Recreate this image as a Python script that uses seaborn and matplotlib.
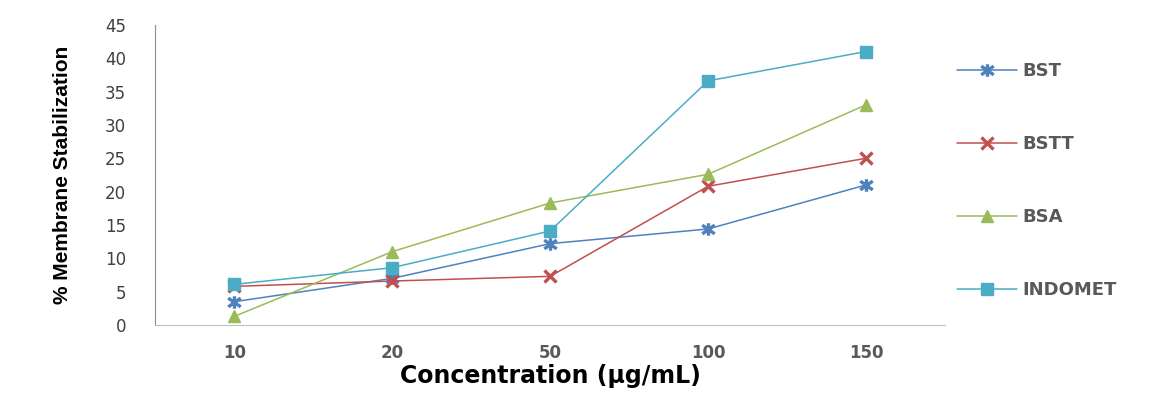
import pandas as pd
import numpy as np
import matplotlib.pyplot as plt
import seaborn as sns
from matplotlib.ticker import FixedLocator
from matplotlib.path import Path

sns.set_style("white")
plt.rcParams['font.family'] = ['DejaVu Sans']

# data
concentrations = ['10', '20', '50', '100', '150']
bst = [3.5, 7.0, 12.2, 14.4, 21.0]
bstt = [5.8, 6.6, 7.3, 20.8, 25.0]
bsa = [1.3, 11.0, 18.3, 22.6, 33.0]
indomet = [6.1, 8.6, 14.1, 36.6, 41.0]

# Excel-like "star" marker: an X with a vertical stroke
star = Path([(-1, -0.7), (1, 0.7), (-1, 0.7), (1, -0.7), (0, -1), (0, 1)],
            [Path.MOVETO, Path.LINETO, Path.MOVETO, Path.LINETO, Path.MOVETO, Path.LINETO])

series = {'BST': bst, 'BSTT': bstt, 'BSA': bsa, 'INDOMET': indomet}
colors = {'BST': '#4F81BD', 'BSTT': '#C0504D', 'BSA': '#9BBB59', 'INDOMET': '#4BACC6'}
markers = {'BST': star, 'BSTT': 'x', 'BSA': '^', 'INDOMET': 's'}
msize = {'BST': 17, 'BSTT': 16, 'BSA': 14, 'INDOMET': 12}
edge_w = {'BST': 3.2, 'BSTT': 3.0, 'BSA': 1, 'INDOMET': 1}

fig = plt.figure(figsize=(11.51, 3.94), dpi=100)
ax = fig.add_axes([0.135, 0.175, 0.686, 0.762])

# one lineplot per series (mixed filled / line-art markers)
for name, vals in series.items():
    d = pd.DataFrame({'pos': np.arange(len(vals)), 'value': vals})
    sns.lineplot(data=d, x='pos', y='value', color=colors[name], marker=markers[name],
                 markersize=msize[name], markeredgewidth=edge_w[name],
                 markeredgecolor=colors[name], markerfacecolor=colors[name],
                 linewidth=1.1, label=name, ax=ax)

ax.set_xlim(-0.5, 4.5)
ax.set_ylim(0, 45)
ax.set_yticks(np.arange(0, 46, 5))
ax.set_xticks(range(len(concentrations)))
ax.set_xticklabels(concentrations, fontweight='bold')
ax.xaxis.set_minor_locator(FixedLocator(np.arange(-0.5, 4.6, 1)))
ax.tick_params(axis='x', which='major', length=0, pad=14, labelsize=12, labelcolor='#595959')
ax.tick_params(axis='x', which='minor', length=5, color='#BFBFBF', direction='out')
ax.tick_params(axis='y', length=7, color='#8C8C8C', direction='out', labelsize=12,
               labelcolor='#404040', pad=14)

for s in ['top', 'right']:
    ax.spines[s].set_visible(False)
ax.spines['left'].set_color('#8C8C8C')
ax.spines['bottom'].set_color('#BFBFBF')

ax.set_xlabel('Concentration (µg/mL)', fontsize=17, fontweight='heavy', color='black')
ax.xaxis.set_label_coords(0.5, -0.13)
ax.set_ylabel('% Membrane Stabilization', fontsize=15, fontweight='bold', color='black',
              family=['Liberation Sans Narrow', 'Liberation Sans', 'DejaVu Sans'])
ax.yaxis.set_label_coords(-0.105, 0.5)

handles, labels = ax.get_legend_handles_labels()
for h in handles:
    h.set_markersize(9)
    if h.get_marker() in ('^', 's'):
        continue
    h.set_markeredgewidth(2.4)
leg = ax.legend(handles, labels, loc='upper left', bbox_to_anchor=(0.995, 0.93),
                frameon=False, labelspacing=3.05, handlelength=3.3, handletextpad=0.3,
                prop={'weight': 'bold', 'size': 13})
for t in leg.get_texts():
    t.set_color('#595959')

plt.savefig('out.png', dpi=100)
